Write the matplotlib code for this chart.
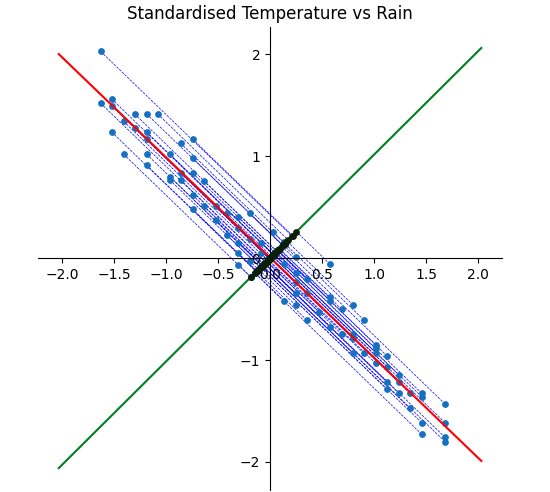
import numpy as np
import matplotlib
matplotlib.use("Agg")
import matplotlib.pyplot as plt

# standardised temperature (x) and rain (y)
temp = [-1.627, -1.627, -1.521, -1.521, -1.300, -1.185, -1.079, -1.406, -1.300, -1.185,
        -1.185, -1.521, -0.742, -0.858, -1.406, -1.185, -0.963, -0.742, -1.185, -0.963,
        -0.963, -0.858, -0.858, -0.742, -0.637, -0.742, -0.742, -0.637, -0.521, -0.521,
        -0.413, -0.306, -0.197, -0.413, -0.306, -0.306, -0.197, -0.088, 0.027, -0.306,
        -0.197, -0.306, 0.245, 0.133, 0.575, 0.245, 0.353, 0.245, 0.245, 0.353,
        0.133, 0.245, 0.575, 0.575, 0.468, 0.688, 0.798, 0.902, 0.353, 0.575,
        0.688, 0.798, 0.798, 1.014, 1.014, 1.014, 0.798, 0.902, 1.125, 1.014,
        1.125, 1.125, 1.125, 1.238, 1.238, 1.238, 1.344, 1.344, 1.457, 1.457,
        1.457, 1.457, 1.681, 1.681, 1.681, 1.681, -0.088, 0.133]
rain = [2.026, 1.517, 1.559, 1.490, 1.412, 1.412, 1.412, 1.340, 1.272, 1.235,
        1.164, 1.235, 1.164, 1.125, 1.017, 1.017, 1.017, 0.977, 0.909, 0.797,
        0.765, 0.830, 0.765, 0.830, 0.758, 0.615, 0.477, 0.507, 0.507, 0.373,
        0.438, 0.402, 0.438, 0.223, 0.291, 0.152, 0.183, 0.152, 0.258, 0.046,
        -0.029, -0.066, 0.013, -0.059, -0.059, -0.144, -0.209, -0.232, -0.346, -0.346,
        -0.419, -0.461, -0.385, -0.419, -0.526, -0.503, -0.461, -0.608, -0.608, -0.674,
        -0.745, -0.745, -0.787, -0.848, -0.885, -0.928, -0.934, -0.934, -0.961, -1.032,
        -1.066, -1.219, -1.287, -1.147, -1.219, -1.326, -1.326, -1.474, -1.326, -1.360,
        -1.615, -1.728, -1.431, -1.615, -1.758, -1.801, 0.046, 0.160]

# component lines (end points in data units)
pc1_x = [-2.03, 2.03]
pc1_y = [2.00, -1.99]
pc2_x = [-2.03, 2.03]
pc2_y = [-2.06, 2.06]

x = np.array(temp)
y = np.array(rain)

# project every point onto the second component
v = np.array([pc2_x[1] - pc2_x[0], pc2_y[1] - pc2_y[0]])
v = v / np.linalg.norm(v)
t = x * v[0] + y * v[1]
px = t * v[0]
py = t * v[1]

fig = plt.figure(figsize=(5.5, 4.92), dpi=100)
ax = fig.add_axes([0.069, 0.004, 0.844, 0.941])

for i in range(len(x)):
    ax.plot([x[i], px[i]], [y[i], py[i]], color='b', linestyle='--', linewidth=0.5, zorder=1)

ax.scatter(x, y, s=15, color='#1570c0', zorder=2)
ax.plot(pc1_x, pc1_y, color='red', linewidth=1.5, zorder=3)
ax.plot(pc2_x, pc2_y, color='#007f22', linewidth=1.5, zorder=3)
ax.scatter(px, py, s=15, color='#0a1f0a', zorder=4)

ax.set_xlim(-2.23, 2.23)
ax.set_ylim(-2.275, 2.265)
ax.set_xticks(np.arange(-2.0, 2.01, 0.5))
ax.set_yticks([-2, -1, 0, 1, 2])

ax.spines['left'].set_position('zero')
ax.spines['bottom'].set_position('zero')
ax.spines['right'].set_visible(False)
ax.spines['top'].set_visible(False)

ax.set_title("Standardised Temperature vs Rain")

fig.savefig("out.png", dpi=100)
